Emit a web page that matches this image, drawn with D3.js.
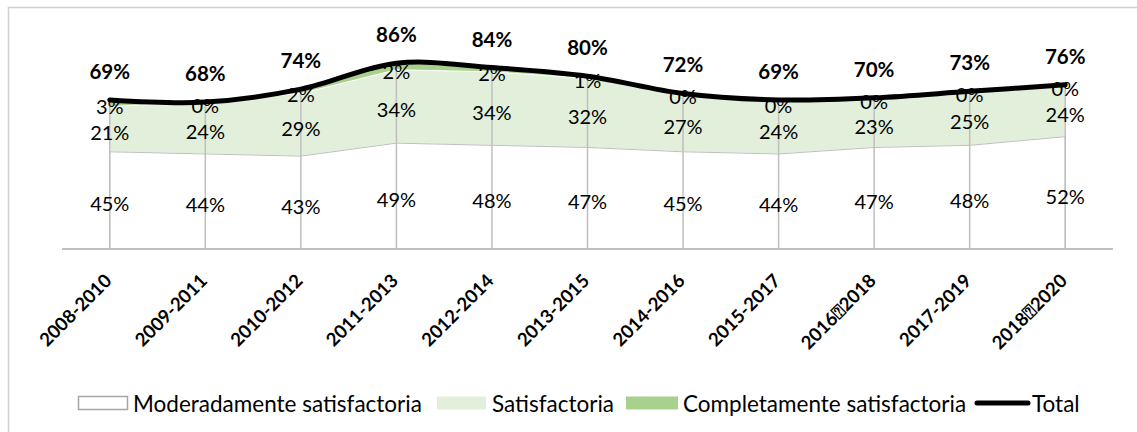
<!DOCTYPE html>
<html lang="es">
<head>
    <meta charset="UTF-8">
    <script src="https://cdn.jsdelivr.net/npm/d3@7/dist/d3.min.js"></script>
    <title>satisfaccion</title>
</head>
<style type="text/css">
    body{
        margin:0;
        background:white;
    }
    text{
        font-family:Lato, "Open Sans", sans-serif;
        fill:#000;
    }
    .lbl{
        font-size:20px;
    }
    .tot{
        font-size:20.5px;
        font-weight:bold;
    }
    .xlab{
        font-size:18.5px;
        font-weight:bold;
    }
    .leg{
        font-size:22.5px;
    }
</style>
<body>
<div id="chart"></div>
<script>

    // data
    var periods = ["2008-2010","2009-2011","2010-2012","2011-2013","2012-2014","2013-2015",
                   "2014-2016","2015-2017","2016\u23702018","2017-2019","2018\u23702020"];
    var moderada = [45,44,43,49,48,47,45,44,47,48,52];
    var satisf   = [21,24,29,34,34,32,27,24,23,25,24];
    var completa = [3,0,2,2,2,1,0,0,0,0,0];
    var total    = [69,68,74,86,84,80,72,69,70,73,76];

    var W = 1137, H = 432;
    var x0 = 62, x1 = 1113, yBase = 249, yTop = 33;

    var svg = d3.select("#chart").append("svg")
        .attr("width", W)
        .attr("height", H);

    // outer border
    svg.append("rect")
        .attr("x", 8.5).attr("y", 7.5)
        .attr("width", 1140).attr("height", 440)
        .attr("fill", "white")
        .attr("stroke", "#d0d0d0")
        .attr("stroke-width", 1.5);

    var x = d3.scalePoint()
        .domain(periods)
        .range([x0, x1])
        .padding(0.5);

    var y = d3.scaleLinear()
        .domain([0, 100])
        .range([yBase, yTop]);

    var rows = periods.map(function(p, i) {
        return {p: p, m: moderada[i], s: satisf[i], c: completa[i], t: total[i]};
    });

    // stacked areas
    var aMod = d3.area()
        .x(d => x(d.p))
        .y0(yBase)
        .y1(d => y(d.m));
    var aSat = d3.area()
        .x(d => x(d.p))
        .y0(d => y(d.m))
        .y1(d => y(d.m + d.s));
    var aCom = d3.area()
        .x(d => x(d.p))
        .y0(d => y(d.m + d.s))
        .y1(d => y(d.t));

    svg.append("path").datum(rows)
        .attr("d", aCom)
        .attr("fill", "#a9d18e");
    svg.append("path").datum(rows)
        .attr("d", aSat)
        .attr("fill", "#e2efda")
        .attr("stroke", "white")
        .attr("stroke-width", 1);
    svg.append("path").datum(rows)
        .attr("d", aMod)
        .attr("fill", "white")
        .attr("stroke", "#bfbfbf")
        .attr("stroke-width", 1);

    // drop lines
    svg.selectAll(".drop")
        .data(rows)
        .enter()
        .append("line")
        .attr("class", "drop")
        .attr("x1", d => x(d.p)).attr("x2", d => x(d.p))
        .attr("y1", yBase).attr("y2", d => y(d.t))
        .attr("stroke", "#bfbfbf")
        .attr("stroke-width", 1.5);

    // x axis
    var xAxis = d3.axisBottom(x).tickSize(0).tickFormat("");
    var gx = svg.append("g")
        .attr("transform", "translate(0," + yBase + ")")
        .call(xAxis);
    gx.select(".domain")
        .attr("d", "M" + x0 + ",0H" + x1)
        .attr("stroke", "#bfbfbf")
        .attr("stroke-width", 2);

    svg.selectAll(".xlab")
        .data(periods)
        .enter()
        .append("text")
        .attr("class", "xlab")
        .attr("text-anchor", "end")
        .attr("transform", d => "translate(" + (x(d) + 3) + "," + (yBase + 33) + ") rotate(-45)")
        .text(d => d);

    // data labels
    function pct(v) { return v + "%"; }

    svg.selectAll(".lm")
        .data(rows).enter()
        .append("text")
        .attr("class", "lbl")
        .attr("text-anchor", "middle")
        .attr("dominant-baseline", "central")
        .attr("x", d => x(d.p))
        .attr("y", d => y(d.m / 2) + 3)
        .text(d => pct(d.m));

    svg.selectAll(".ls")
        .data(rows).enter()
        .append("text")
        .attr("class", "lbl")
        .attr("text-anchor", "middle")
        .attr("dominant-baseline", "central")
        .attr("x", d => x(d.p))
        .attr("y", d => y(d.m + d.s / 2) + 3)
        .text(d => pct(d.s));

    // total line
    var line = d3.line()
        .x(d => x(d.p))
        .y(d => y(d.t))
        .curve(d3.curveCardinal.tension(0));

    svg.append("path").datum(rows)
        .attr("d", line)
        .attr("fill", "none")
        .attr("stroke", "black")
        .attr("stroke-width", 5)
        .attr("stroke-linecap", "round");

    svg.selectAll(".lc")
        .data(rows).enter()
        .append("text")
        .attr("class", "lbl")
        .attr("text-anchor", "middle")
        .attr("dominant-baseline", "central")
        .attr("x", d => x(d.p))
        .attr("y", d => y(d.m + d.s + d.c / 2) + 3)
        .text(d => pct(d.c));

    svg.selectAll(".lt")
        .data(rows).enter()
        .append("text")
        .attr("class", "tot")
        .attr("text-anchor", "middle")
        .attr("dominant-baseline", "central")
        .attr("x", d => x(d.p))
        .attr("y", d => y(d.t) - 29)
        .text(d => pct(d.t));

    // legend
    var ly = 403;
    var leg = svg.append("g");
    leg.append("rect")
        .attr("x", 78.5).attr("y", ly - 6.5)
        .attr("width", 49).attr("height", 13)
        .attr("fill", "white").attr("stroke", "#a6a6a6").attr("stroke-width", 1.5);
    leg.append("text").attr("class", "leg")
        .attr("x", 133).attr("y", ly).attr("dominant-baseline", "central")
        .text("Moderadamente satisfactoria");
    leg.append("rect")
        .attr("x", 437).attr("y", ly - 6.5)
        .attr("width", 49).attr("height", 13)
        .attr("fill", "#e2efda");
    leg.append("text").attr("class", "leg")
        .attr("x", 492).attr("y", ly).attr("dominant-baseline", "central")
        .text("Satisfactoria");
    leg.append("rect")
        .attr("x", 626).attr("y", ly - 6.5)
        .attr("width", 52).attr("height", 13)
        .attr("fill", "#a9d18e");
    leg.append("text").attr("class", "leg")
        .attr("x", 683).attr("y", ly).attr("dominant-baseline", "central")
        .text("Completamente satisfactoria");
    leg.append("line")
        .attr("x1", 977).attr("x2", 1028)
        .attr("y1", ly).attr("y2", ly)
        .attr("stroke", "black").attr("stroke-width", 5).attr("stroke-linecap", "round");
    leg.append("text").attr("class", "leg")
        .attr("x", 1032).attr("y", ly).attr("dominant-baseline", "central")
        .text("Total");

</script>
</body>
</html>
